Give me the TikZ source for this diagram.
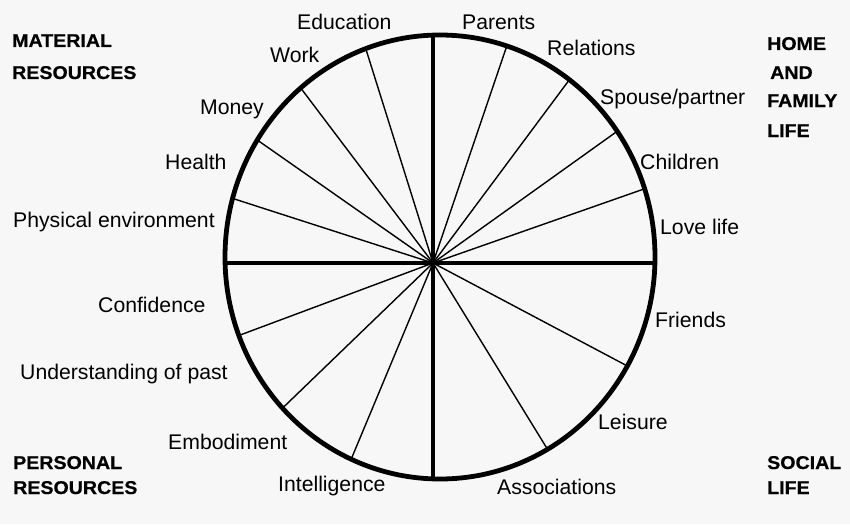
\documentclass[tikz,border=0pt]{standalone}
\usepackage{fontspec}
\setmainfont{Liberation Sans}
\newfontfamily\boldlab[FakeStretch=1.06,FakeBold=0.5]{Liberation Sans Bold}
\definecolor{bg}{HTML}{F7F7F7}
\tikzset{
  lab/.style={anchor=base west,inner sep=0pt,font=\fontsize{21.2}{23}\selectfont},
  head/.style={anchor=base west,inner sep=0pt,font=\boldlab\fontsize{18.5}{20}\selectfont},
  rim/.style={line width=4.8pt},
  axis/.style={line width=4pt},
  spoke/.style={line width=1.4pt}
}
\begin{document}
\begin{tikzpicture}[x=1pt,y=-1pt]
\fill[bg] (0,0) rectangle (850,524);
\useasboundingbox (0,0) rectangle (850,524);
\coordinate (c) at (433,263);
\foreach \n/\t in {edu/-110.2,wor/-130.4,mon/-148.2,hea/-164.7,rel/-71.9,spo/-53.0,chi/-34.5,lov/-17.9,con/159.3,und/137.1,emb/114.4,fri/29.4,lei/60.0}{
  \coordinate (\n) at ({440+215*cos(\t)},{257+222*sin(\t)});
  \draw[spoke] (c) -- (\n);
}
\coordinate (L) at (225,263);
\coordinate (R) at (655,263);
\coordinate (T) at (433,35);
\coordinate (B) at (433,479);
\draw[axis] (L) -- (R);
\draw[axis] (T) -- (B);
\draw[rim] (440,257) ellipse [x radius=215pt, y radius=222pt];
% labels
\node[lab] (tEdu) at (297,29.5) {Education};
\node[lab] (tWor) at (270,62.5) {Work};
\node[lab] (tMon) at (200,114.5) {Money};
\node[lab] (tHea) at (165,169.5) {Health};
\node[lab] (tPhy) at (13,227.5) {Physical environment};
\node[lab] (tPar) at (462,29.5) {Parents};
\node[lab] (tRel) at (547,55.5) {Relations};
\node[lab] (tSpo) at (600,104.5) {Spouse/partner};
\node[lab] (tChi) at (640,169.5) {Children};
\node[lab] (tLov) at (660,234.5) {Love life};
\node[lab] (tCon) at (98,312.5) {Confidence};
\node[lab] (tUnd) at (20,379.5) {Understanding of past};
\node[lab] (tEmb) at (168,449.5) {Embodiment};
\node[lab] (tInt) at (278,491.5) {Intelligence};
\node[lab] (tFri) at (655,327.5) {Friends};
\node[lab] (tLei) at (598,429.5) {Leisure};
\node[lab] (tAss) at (497,494.5) {Associations};
\node[head] (hMat) at (12,47) {MATERIAL};
\node[head] (hRes) at (12,79) {RESOURCES};
\node[head] (hHom) at (767,50) {HOME};
\node[head] (hAnd) at (770,79) {AND};
\node[head] (hFam) at (767,107) {FAMILY};
\node[head] (hLif) at (767,137) {LIFE};
\node[head] (hPer) at (13,469) {PERSONAL};
\node[head] (hPre) at (13,494) {RESOURCES};
\node[head] (hSoc) at (767,469) {SOCIAL};
\node[head] (hSli) at (767,494) {LIFE};
\end{tikzpicture}
\end{document}
